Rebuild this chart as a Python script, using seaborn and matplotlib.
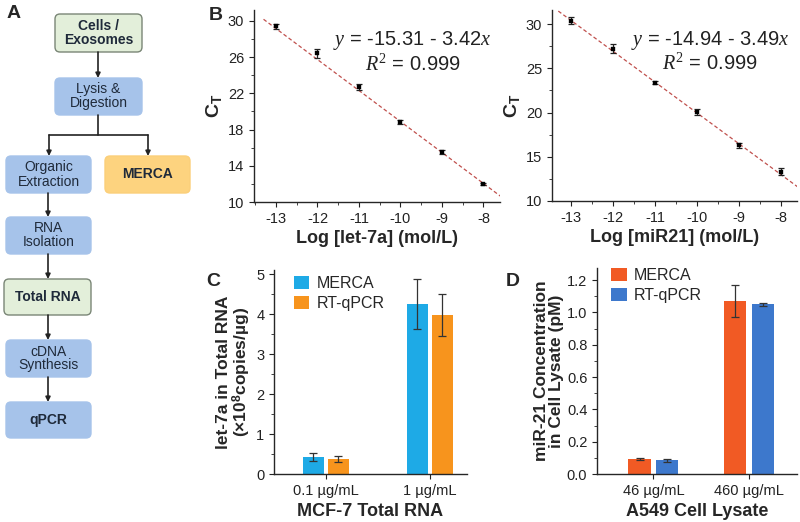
import numpy as np
import pandas as pd
import matplotlib
matplotlib.use("Agg")
import matplotlib.pyplot as plt
from matplotlib.patches import FancyBboxPatch
from matplotlib.ticker import MultipleLocator, FormatStrFormatter
import seaborn as sns

# ---- data ----
log_conc = [-13, -12, -11, -10, -9, -8]
let7a_ct = [29.4, 26.4, 22.7, 18.8, 15.5, 12.0]
let7a_err = [0.25, 0.45, 0.3, 0.2, 0.2, 0.15]
mir21_ct = [30.4, 27.2, 23.4, 20.1, 16.3, 13.3]
mir21_err = [0.4, 0.5, 0.2, 0.35, 0.25, 0.4]
let7a_fit = (-15.31, -3.42)   # intercept, slope
mir21_fit = (-14.94, -3.49)
fit_span = [-13.3, -7.55]
let7a_yticks = [10, 14, 18, 22, 26, 30]
mir21_yticks = [10, 15, 20, 25, 30]

methods = ["MERCA", "RT-qPCR"]
c_groups = ["0.1 \u00b5g/mL", "1 \u00b5g/mL"]
c_merca = [0.43, 4.25]
c_merca_err = [0.10, 0.62]
c_rt = [0.37, 3.98]
c_rt_err = [0.07, 0.52]

d_groups = ["46 \u00b5g/mL", "460 \u00b5g/mL"]
d_merca = [0.09, 1.07]
d_merca_err = [0.006, 0.10]
d_rt = [0.085, 1.05]
d_rt_err = [0.008, 0.01]

# ---- style ----
sns.set_style("ticks")
plt.rcParams["font.family"] = ["Liberation Sans", "DejaVu Sans"]
plt.rcParams["mathtext.fontset"] = "custom"
plt.rcParams["mathtext.rm"] = "Liberation Serif"
plt.rcParams["mathtext.it"] = "Liberation Serif:italic"
plt.rcParams["mathtext.bf"] = "Liberation Sans:bold"
plt.rcParams["axes.unicode_minus"] = False
plt.rcParams["axes.linewidth"] = 1.0
plt.rcParams["xtick.major.size"] = 3.5
plt.rcParams["ytick.major.size"] = 3.5
plt.rcParams["xtick.minor.size"] = 2
plt.rcParams["ytick.minor.size"] = 2
plt.rcParams["xtick.labelsize"] = 10.5
plt.rcParams["ytick.labelsize"] = 10.5
plt.rcParams["xtick.color"] = "#222222"
plt.rcParams["ytick.color"] = "#222222"

W, H = 800, 522
fig = plt.figure(figsize=(8, 5.22), dpi=100)


def px_axes(left, top, right, bottom):
    return fig.add_axes([left / W, (H - bottom) / H, (right - left) / W, (bottom - top) / H])


# ---- panel A: flowchart ----
axA = fig.add_axes([0, 0, 0.25, 1])
axA.set_xlim(0, 200)
axA.set_ylim(H, 0)
axA.axis("off")

green = ("#e3efda", "#7a8676")
blue = ("#a6c3ea", "#a6c3ea")
orange = ("#fdd37f", "#fbcf7a")
boxes = [
    ("Cells /\nExosomes", 55, 14, 87, 38, green, "bold"),
    ("Lysis &\nDigestion", 55, 78, 87, 37, blue, "normal"),
    ("Organic\nExtraction", 6, 156, 85, 37, blue, "normal"),
    ("MERCA", 105, 156, 85, 37, orange, "bold"),
    ("RNA\nIsolation", 6, 217, 85, 37, blue, "normal"),
    ("Total RNA", 4, 279, 87, 36, green, "bold"),
    ("cDNA\nSynthesis", 6, 340, 85, 37, blue, "normal"),
    ("qPCR", 6, 402, 85, 36, blue, "bold"),
]
for label, x0, y0, bw, bh, (fc, ec), wt in boxes:
    axA.add_patch(FancyBboxPatch((x0, y0), bw, bh, boxstyle="round,pad=0,rounding_size=5",
                                 fc=fc, ec=ec, lw=1.0))
    axA.text(x0 + bw / 2, y0 + bh / 2, label, ha="center", va="center", fontsize=10,
             fontweight=wt, color="#1f2a3a", linespacing=1.0)

arrow_kw = dict(arrowstyle="-|>", lw=1.2, color="#222222", mutation_scale=7, shrinkA=0, shrinkB=0)
for (x1, y1), (x2, y2) in [((98, 52), (98, 78)), ((49, 135), (49, 156)), ((148, 135), (148, 156)),
                           ((48, 193), (48, 217)), ((48, 254), (48, 279)), ((48, 315), (48, 340)),
                           ((48, 377), (48, 402))]:
    axA.annotate("", xy=(x2, y2), xytext=(x1, y1), arrowprops=arrow_kw)
axA.plot([98, 98], [115, 135], color="#222222", lw=1.2)
axA.plot([49, 148], [135, 135], color="#222222", lw=1.2)
axA.text(7, 13, "A", fontsize=14, fontweight="bold", va="center", ha="left")


# ---- panel B ----
def calib(ax, ct, err, fit, xlabel, eq, ylim, yticks, ymin):
    xs = np.array(fit_span)
    sns.lineplot(x=xs, y=fit[0] + fit[1] * xs, ax=ax, color="#c0504d", lw=0.9,
                 linestyle=(0, (3, 2)))
    ax.errorbar(log_conc, ct, yerr=err, fmt="none", ecolor="#222222", elinewidth=0.9,
                capsize=2.5, capthick=0.9, zorder=3)
    sns.scatterplot(x=log_conc, y=ct, ax=ax, marker="s", s=10, color="black",
                    edgecolor="black", zorder=4)
    ax.set_ylim(*ylim)
    ax.set_yticks(yticks)
    ax.yaxis.set_minor_locator(MultipleLocator(ymin))
    ax.set_xticks(log_conc)
    ax.xaxis.set_minor_locator(MultipleLocator(0.5))
    ax.set_xlabel(xlabel, fontsize=13, fontweight="bold", labelpad=3)
    ax.set_ylabel(r"$\mathbf{C_T}$", fontsize=14, labelpad=3)
    ax.text(0.645, 0.84, eq, transform=ax.transAxes, ha="center", va="center",
            fontsize=14.5, color="#222222")
    ax.text(0.645, 0.72, r"$R^2$ = 0.999", transform=ax.transAxes, ha="center", va="center",
            fontsize=14.5, color="#222222")
    sns.despine(ax=ax)


axB1 = px_axes(254, 10, 500, 202)
axB1.set_xlim(-13.53, -7.6)
calib(axB1, let7a_ct, let7a_err, let7a_fit, "Log [let-7a] (mol/L)",
      r"$y$ = -15.31 - 3.42$x$", (10, 31.2), let7a_yticks, 2)

axB2 = px_axes(552, 10, 797, 201)
axB2.set_xlim(-13.45, -7.62)
calib(axB2, mir21_ct, mir21_err, mir21_fit, "Log [miR21] (mol/L)",
      r"$y$ = -14.94 - 3.49$x$", (10, 31.6), mir21_yticks, 2.5)
fig.text(209 / W, 1 - 15 / H, "B", fontsize=14, fontweight="bold", va="center", ha="left")


# ---- panels C and D ----
def bars(ax, groups, merca, merca_err, rt, rt_err, colors, width, gap):
    df = pd.DataFrame({
        "group": groups * 2,
        "method": [methods[0]] * len(groups) + [methods[1]] * len(groups),
        "value": merca + rt,
    })
    sns.barplot(data=df, x="group", y="value", hue="method", hue_order=methods,
                palette=colors, width=width, gap=gap, errorbar=None, ax=ax,
                saturation=1, edgecolor="none")
    for cont, errs in zip(ax.containers, [merca_err, rt_err]):
        xs = [b.get_x() + b.get_width() / 2 for b in cont]
        ys = [b.get_height() for b in cont]
        ax.errorbar(xs, ys, yerr=errs, fmt="none", ecolor="#333333", elinewidth=0.9,
                    capsize=3, capthick=0.9, zorder=3)
    sns.despine(ax=ax)
    ax.set_xlabel("")


legend_kw = dict(loc="upper left", frameon=False, fontsize=11.5, handlelength=0.95,
                 handleheight=0.85, handletextpad=0.45, labelspacing=0.3, borderaxespad=0)

axC = px_axes(274, 270, 467, 474)
bars(axC, c_groups, c_merca, c_merca_err, c_rt, c_rt_err, ["#1eaae6", "#f7941d"], 0.48, 0.15)
axC.set_xlim(-0.5, 1.36)
axC.set_ylim(0, 5.1)
axC.yaxis.set_major_locator(MultipleLocator(1))
axC.yaxis.set_minor_locator(MultipleLocator(0.5))
axC.set_xlabel("MCF-7 Total RNA", fontsize=13, fontweight="bold", labelpad=4)
axC.set_ylabel("let-7a in Total RNA\n(\u00d710$^\\mathbf{8}$copies/\u00b5g)", fontsize=12.5,
               fontweight="bold", labelpad=2, linespacing=1.0)
h, l = axC.get_legend_handles_labels()
axC.legend(h, l, bbox_to_anchor=(0.07, 1.0), **legend_kw)
fig.text(206 / W, 1 - 282 / H, "C", fontsize=14, fontweight="bold", va="center", ha="left")

axD = px_axes(597, 268, 797, 474)
bars(axD, d_groups, d_merca, d_merca_err, d_rt, d_rt_err, ["#f15a24", "#3d78cc"], 0.58, 0.2)
axD.set_xlim(-0.59, 1.5)
axD.set_ylim(0, 1.275)
axD.yaxis.set_major_locator(MultipleLocator(0.2))
axD.yaxis.set_minor_locator(MultipleLocator(0.1))
axD.yaxis.set_major_formatter(FormatStrFormatter("%.1f"))
axD.set_xlabel("A549 Cell Lysate", fontsize=13, fontweight="bold", labelpad=4)
axD.set_ylabel("miR-21 Concentration\nin Cell Lysate (pM)", fontsize=12.5, fontweight="bold",
               labelpad=2, linespacing=1.0)
h, l = axD.get_legend_handles_labels()
axD.legend(h, l, bbox_to_anchor=(0.04, 1.03), **legend_kw)
fig.text(506 / W, 1 - 282 / H, "D", fontsize=14, fontweight="bold", va="center", ha="left")

fig.savefig("out.png", dpi=100)
